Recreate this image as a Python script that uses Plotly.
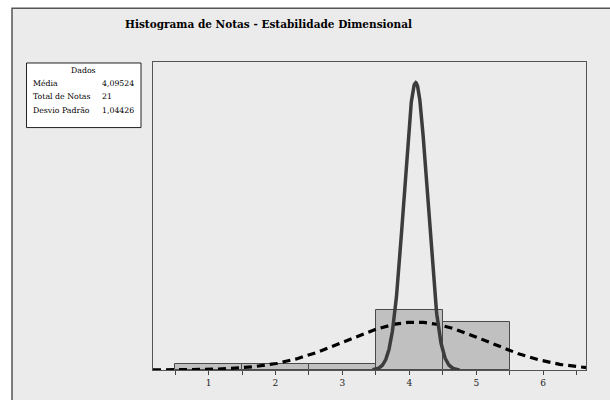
import numpy as np
import plotly.graph_objects as go

# Histogram data: grade values and their counts
grades = [1, 2, 3, 4, 5]
counts = [1, 1, 1, 10, 8]

# Summary statistics shown in the data box
mean_val = 4.09524
n_total = 21
std_val = 1.04426
# Spread used for the narrow (grey) reference curve
narrow_std = 0.174

stats_labels = ["Média", "Total de Notas", "Desvio Padrão"]
stats_values = ["4,09524", "21", "1,04426"]

tick_positions = [0.5, 1, 1.5, 2, 2.5, 3, 3.5, 4, 4.5, 5, 5.5, 6, 6.5]
tick_labels = ["", "1", "", "2", "", "3", "", "4", "", "5", "", "6", ""]

bin_width = 1.0


def normal_counts(x, mu, sigma):
    return n_total * bin_width * np.exp(-0.5 * ((x - mu) / sigma) ** 2) / (sigma * np.sqrt(2 * np.pi))


x_wide = np.linspace(0.17, 6.64, 300)
x_narrow = np.linspace(3.45, 4.75, 300)

fig = go.Figure()

fig.add_trace(go.Bar(
    x=grades, y=counts, width=bin_width,
    marker=dict(color="#c0c0c0", line=dict(color="#4a4a4a", width=1)),
    showlegend=False, hoverinfo="x+y",
))

fig.add_trace(go.Scatter(
    x=x_wide, y=normal_counts(x_wide, mean_val, std_val), mode="lines",
    line=dict(color="black", width=3.2, dash="8px,5px"),
    showlegend=False,
))

fig.add_trace(go.Scatter(
    x=x_narrow, y=normal_counts(x_narrow, mean_val, narrow_std), mode="lines",
    line=dict(color="#3c3c3c", width=3.5),
    showlegend=False,
))

L, R, T, B = 153, 24, 62, 28
W, H = 610, 400
pw, ph = W - L - R, H - T - B


def px_x(p):
    return (p - L) / pw


def px_y(p):
    return (H - B - p) / ph


shapes = [
    # outer frame of the chart
    dict(type="rect", xref="paper", yref="paper",
         x0=px_x(12), x1=px_x(640), y0=px_y(430), y1=px_y(8),
         fillcolor="#ebebeb", line=dict(color="#555555", width=1.5), layer="below"),
    # data box
    dict(type="rect", xref="paper", yref="paper",
         x0=px_x(26.5), x1=px_x(141), y0=px_y(128), y1=px_y(63),
         fillcolor="white", line=dict(color="#222222", width=1), layer="above"),
]

serif = "DejaVu Serif"
annotations = [
    dict(text="<b>Histograma de Notas - Estabilidade Dimensional</b>",
         xref="paper", yref="paper", x=px_x(268), y=px_y(24),
         xanchor="center", yanchor="middle", showarrow=False,
         font=dict(family=serif, size=10.5, color="black")),
    dict(text="Dados", xref="paper", yref="paper", x=px_x(83), y=px_y(71),
         xanchor="center", yanchor="middle", showarrow=False,
         font=dict(family=serif, size=7.8, color="black")),
]
row_y = [84, 97, 111]
for lab, val, yy in zip(stats_labels, stats_values, row_y):
    annotations.append(dict(text=lab, xref="paper", yref="paper", x=px_x(31), y=px_y(yy),
                            xanchor="left", yanchor="middle", showarrow=False,
                            font=dict(family=serif, size=7.8, color="black")))
    annotations.append(dict(text=val, xref="paper", yref="paper", x=px_x(99.5), y=px_y(yy),
                            xanchor="left", yanchor="middle", showarrow=False,
                            font=dict(family=serif, size=7.8, color="black")))

fig.update_layout(
    width=W, height=H,
    margin=dict(l=L, r=R, t=T, b=B, pad=0),
    paper_bgcolor="white", plot_bgcolor="white",
    bargap=0,
    font=dict(family=serif, size=9, color="black"),
    shapes=shapes, annotations=annotations,
    xaxis=dict(range=[0.17, 6.64], tickmode="array", tickvals=tick_positions, ticktext=tick_labels,
               ticks="outside", ticklen=4, tickcolor="#444444", showgrid=False, zeroline=False,
               showline=True, linecolor="#555555", linewidth=1.2, mirror=True,
               tickfont=dict(family=serif, size=9, color="#222222")),
    yaxis=dict(range=[0, 51.6], showticklabels=False, ticks="", showgrid=False, zeroline=False,
               showline=True, linecolor="#555555", linewidth=1.2, mirror=True),
)

fig.write_html("out.html")
